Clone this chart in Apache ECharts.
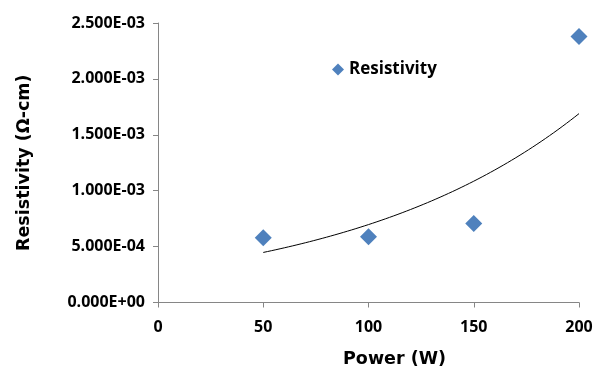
<!DOCTYPE html>
<html><head><meta charset="utf-8">
<script src="https://cdn.jsdelivr.net/npm/echarts@6/dist/echarts.min.js"></script>
<style>html,body{margin:0;padding:0;background:#fff}#c{width:596px;height:369px}</style>
</head><body><div id="c"></div>
<script>
var power = [50, 100, 150, 200];
var resistivity = [5.79e-4, 5.87e-4, 7.07e-4, 2.38e-3];
var xTicks = [0, 50, 100, 150, 200];
var yTicks = [0, 5e-4, 1e-3, 1.5e-3, 2e-3, 2.5e-3];

// Exponential least-squares trendline derived from the data (as Excel does)
var n = power.length, mx = 0, ml = 0;
for (var i = 0; i < n; i++) { mx += power[i]; ml += Math.log(resistivity[i]); }
mx /= n; ml /= n;
var sxy = 0, sxx = 0;
for (var i = 0; i < n; i++) { sxy += (power[i]-mx)*(Math.log(resistivity[i])-ml); sxx += (power[i]-mx)*(power[i]-mx); }
var b = sxy/sxx, a = ml - b*mx;
var trend = [];
for (var x = power[0]; x <= power[n-1]; x += 2) trend.push([x, Math.exp(a + b*x)]);

function fmt(v){
  if (v === 0) return '0.000E+00';
  var s = v.toExponential(3).toUpperCase();
  var m = s.split('E'); var e = parseInt(m[1],10);
  var sign = e < 0 ? '-' : '+'; var ae = Math.abs(e);
  return m[0] + 'E' + sign + (ae < 10 ? '0' : '') + ae;
}
var font = '"Open Sans", Lato, sans-serif';
var titleFont = '"DejaVu Sans", sans-serif';
var chart = echarts.init(document.getElementById('c'));
chart.setOption({
  animation: false,
  grid: {left: 158, right: 17, top: 23, bottom: 66.5, containLabel: false, outerBoundsMode: 'none'},
  legend: {
    data: [{name: 'Resistivity', icon: 'diamond', itemStyle: {color: '#4F81BD', opacity: 1}}],
    left: 327, top: 56, itemWidth: 12, itemHeight: 12, itemGap: 4,
    textStyle: {fontFamily: font, fontWeight: 'bold', fontSize: 17, color: '#000'}
  },
  xAxis: {
    type: 'value', min: 0, max: 200, interval: 50,
    name: 'Power (W)', nameLocation: 'middle', nameGap: 48,
    nameTextStyle: {fontFamily: titleFont, fontWeight: 'bold', fontSize: 17.5, color: '#000', padding: [0,0,0,52]},
    axisLine: {lineStyle: {color: '#868686'}},
    axisTick: {show: true, length: 5, lineStyle: {color: '#868686'}},
    axisLabel: {fontFamily: font, fontWeight: 'bold', fontSize: 16, color: '#000', margin: 17},
    splitLine: {show: false}
  },
  yAxis: {
    type: 'value', min: 0, max: 2.5e-3, interval: 5e-4,
    name: 'Resistivity (Ω-cm)', nameLocation: 'middle', nameGap: 125,
    nameTextStyle: {fontFamily: titleFont, fontWeight: 'bold', fontSize: 17.5, color: '#000'},
    axisLine: {show: true, lineStyle: {color: '#868686'}},
    axisTick: {show: true, length: 5, lineStyle: {color: '#868686'}},
    axisLabel: {fontFamily: font, fontWeight: 'bold', fontSize: 16, color: '#000', margin: 13, formatter: fmt},
    splitLine: {show: false}
  },
  series: [
    {name: 'Resistivity', type: 'scatter', symbol: 'diamond', symbolSize: 17,
     itemStyle: {color: '#4F81BD', opacity: 1},
     data: power.map(function(p, i){ return [p, resistivity[i]]; }), z: 3},
    {name: 'Trend', type: 'line', data: trend, showSymbol: false, symbol: 'none',
     lineStyle: {color: '#000', width: 1}, z: 2}
  ]
});
</script></body></html>
